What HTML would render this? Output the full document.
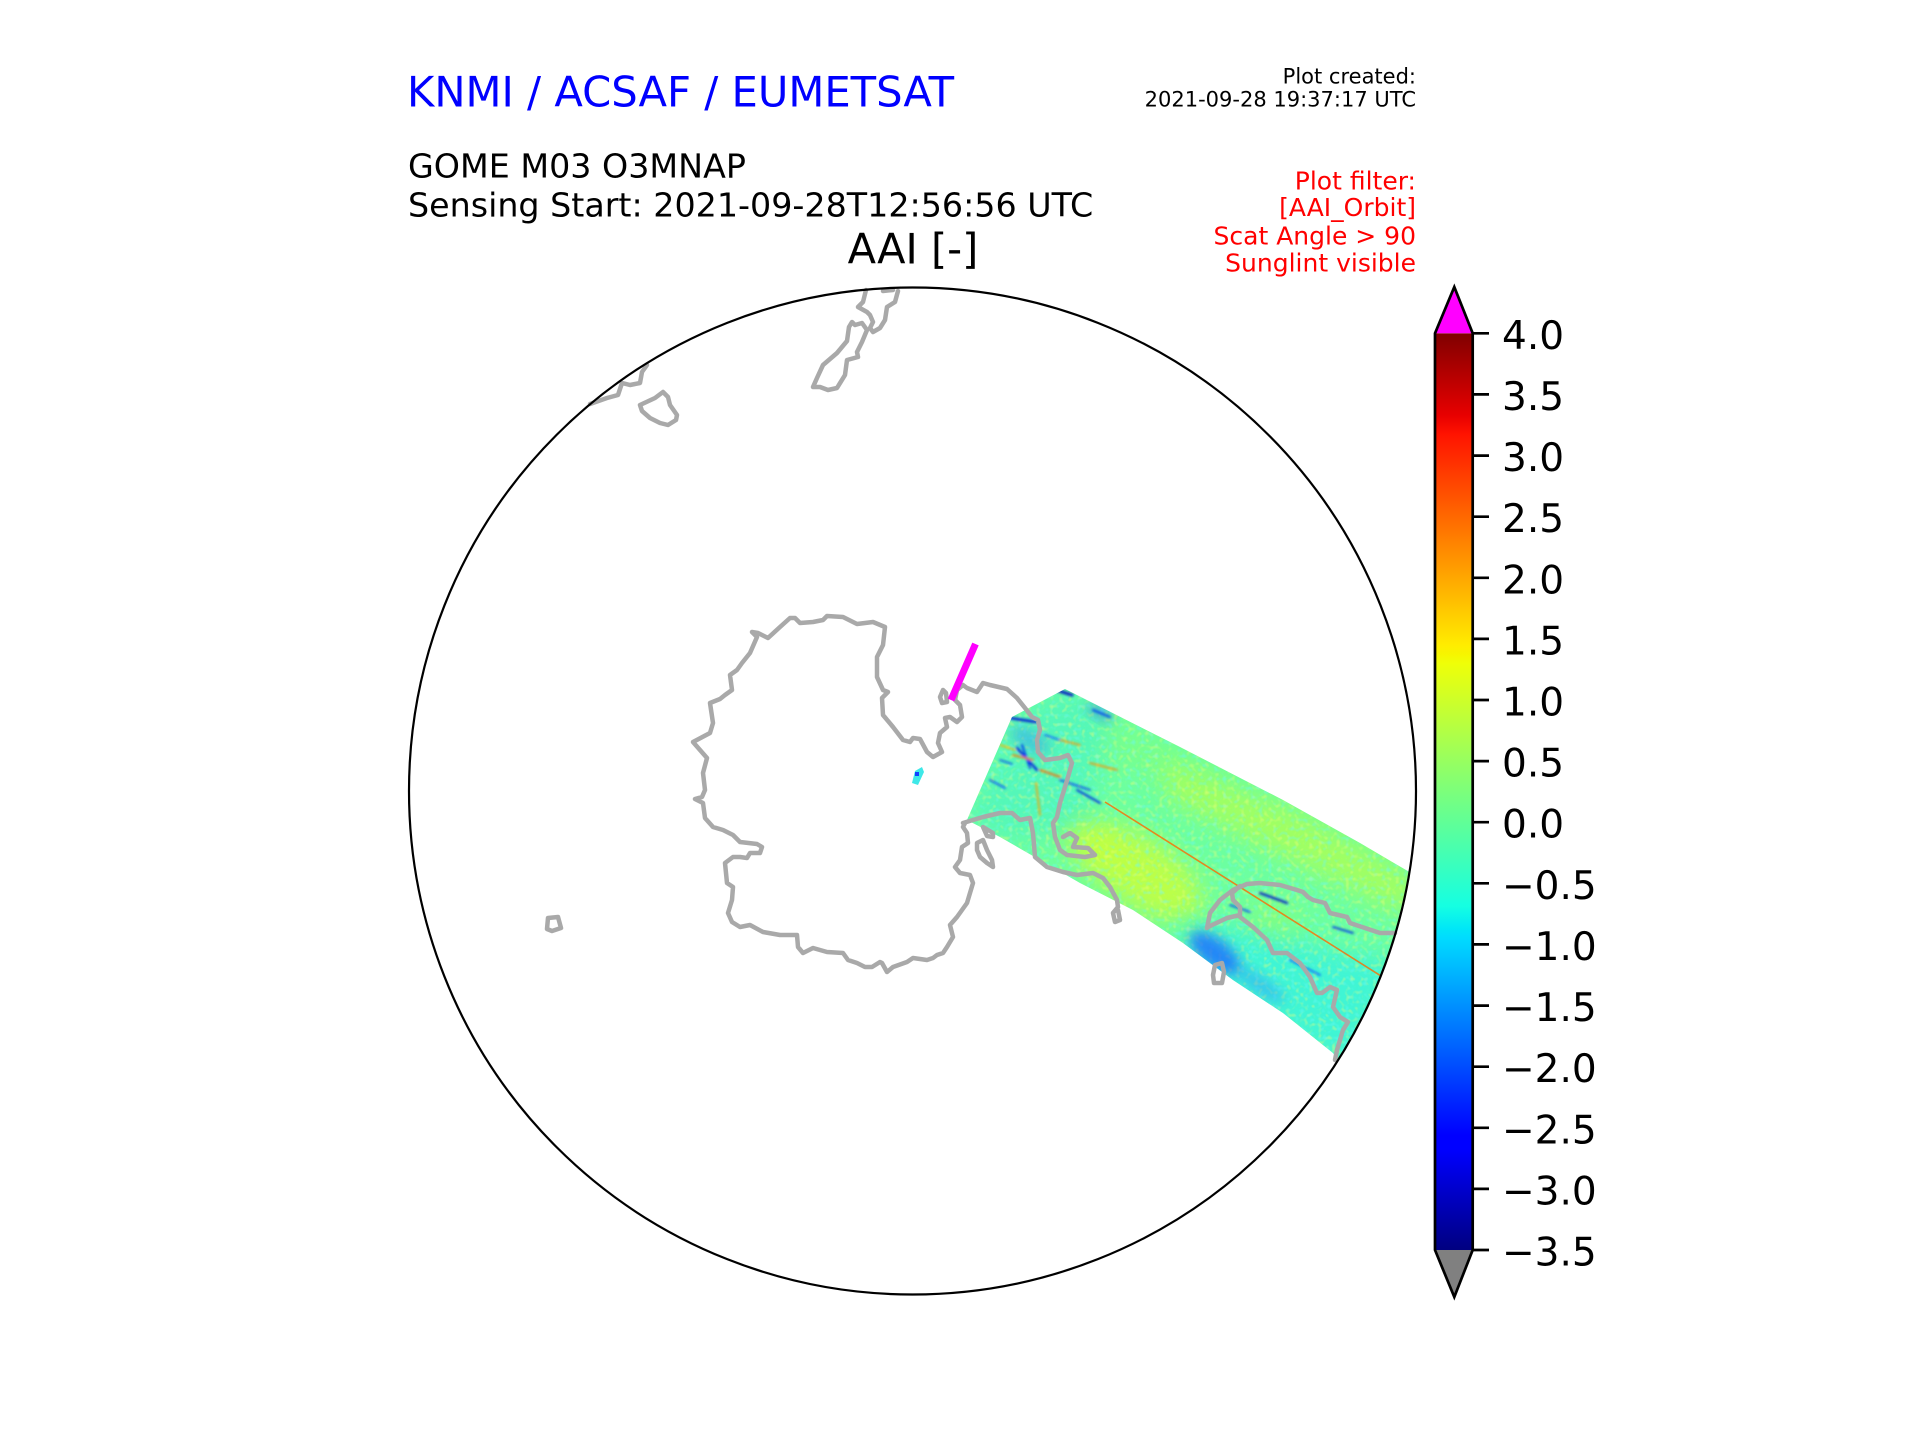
<!DOCTYPE html>
<html>
<head>
<meta charset="utf-8">
<style>
html,body{margin:0;padding:0;background:#fff;}
svg{display:block;}
text{font-family:"DejaVu Sans","Liberation Sans",sans-serif;}
</style>
</head>
<body>
<svg width="1920" height="1440" viewBox="0 0 1920 1440" xmlns="http://www.w3.org/2000/svg">
<defs>
  <linearGradient id="jet" x1="0" y1="1" x2="0" y2="0">
    <stop offset="0" stop-color="rgb(0,0,128)"/>
    <stop offset="0.11" stop-color="rgb(0,0,255)"/>
    <stop offset="0.125" stop-color="rgb(0,0,255)"/>
    <stop offset="0.34" stop-color="rgb(0,219,255)"/>
    <stop offset="0.35" stop-color="rgb(0,230,247)"/>
    <stop offset="0.375" stop-color="rgb(21,255,226)"/>
    <stop offset="0.64" stop-color="rgb(239,255,8)"/>
    <stop offset="0.65" stop-color="rgb(247,245,0)"/>
    <stop offset="0.66" stop-color="rgb(255,236,0)"/>
    <stop offset="0.89" stop-color="rgb(255,19,0)"/>
    <stop offset="0.91" stop-color="rgb(232,0,0)"/>
    <stop offset="1" stop-color="rgb(128,0,0)"/>
  </linearGradient>
  <clipPath id="circ"><circle cx="912.5" cy="791" r="503.5"/></clipPath>
  <clipPath id="sw"><polygon points="1065,689 1180,747 1283,800 1360,843 1440,890 1440,1100 1340,1062 1333,1053 1283,1013 1233,980 1183,943 1133,910 1080,883 1000,837 967,820 1012,717"/></clipPath>
  <filter id="b6" x="-50%" y="-50%" width="200%" height="200%"><feGaussianBlur stdDeviation="6"/></filter>
  <filter id="b12" x="-50%" y="-50%" width="200%" height="200%"><feGaussianBlur stdDeviation="12"/></filter>
  <filter id="b2" x="-50%" y="-50%" width="200%" height="200%"><feGaussianBlur stdDeviation="1.2"/></filter>
  <filter id="noiseY" x="0" y="0" width="100%" height="100%">
    <feTurbulence type="fractalNoise" baseFrequency="0.22" numOctaves="1" seed="3" result="n"/>
    <feColorMatrix in="n" type="matrix" values="0 0 0 0 0.85  0 0 0 0 1  0 0 0 0 0.2  3 0 0 0 -1.55"/>
  </filter>
  <filter id="noiseC" x="0" y="0" width="100%" height="100%">
    <feTurbulence type="fractalNoise" baseFrequency="0.22" numOctaves="1" seed="11" result="n"/>
    <feColorMatrix in="n" type="matrix" values="0 0 0 0 0.15  0 0 0 0 0.95  0 0 0 0 0.95  3 0 0 0 -1.55"/>
  </filter>
</defs>

<!-- Header texts -->
<text x="407" y="106.5" font-size="41.7" fill="#0000ff">KNMI / ACSAF / EUMETSAT</text>
<text x="1416" y="83.3" font-size="21" fill="#000" text-anchor="end">Plot created:</text>
<text x="1416" y="106.7" font-size="21" fill="#000" text-anchor="end">2021-09-28 19:37:17 UTC</text>
<text x="408" y="177.3" font-size="33.3" fill="#000">GOME M03 O3MNAP</text>
<text x="408" y="216.5" font-size="33.3" fill="#000">Sensing Start: 2021-09-28T12:56:56 UTC</text>
<text x="913" y="263.3" font-size="41.5" fill="#000" text-anchor="middle">AAI [-]</text>
<g font-size="25" fill="#ff0000" text-anchor="end">
  <text x="1416" y="189.3">Plot filter:</text>
  <text x="1416" y="216">[AAI_Orbit]</text>
  <text x="1416" y="244.3">Scat Angle &gt; 90</text>
  <text x="1416" y="271.7">Sunglint visible</text>
</g>

<!-- Swath data -->
<g clip-path="url(#circ)">
 <g clip-path="url(#sw)">
  <rect x="950" y="680" width="500" height="420" fill="#6cffa0"/>
  <!-- left region cyan-ish -->
  <polygon points="967,820 1012,717 1065,689 1110,712 1085,830 1000,837" fill="#3ef0d0" opacity="0.5" filter="url(#b12)"/>
  <!-- upper mid green -->
  <polygon points="1110,715 1230,775 1220,800 1110,760" fill="#80ff80" opacity="0.6" filter="url(#b12)"/>
  <!-- middle yellow -->
  <ellipse cx="1140" cy="872" rx="72" ry="34" transform="rotate(33 1140 872)" fill="#d0ff30" opacity="0.8" filter="url(#b12)"/>
  <ellipse cx="1090" cy="845" rx="30" ry="18" transform="rotate(33 1090 845)" fill="#c8ff38" opacity="0.6" filter="url(#b12)"/>
  <!-- right upper yellow-green -->
  <polygon points="1160,760 1300,812 1420,880 1405,915 1300,865 1170,800" fill="#b4ff4c" opacity="0.75" filter="url(#b12)"/>
  <!-- bottom-right cyan -->
  <polygon points="1180,925 1260,930 1330,950 1400,960 1350,1075 1250,1010 1190,975" fill="#30f2e6" opacity="0.75" filter="url(#b12)"/>
  <polygon points="1250,900 1300,905 1290,940 1250,930" fill="#9cff60" opacity="0.5" filter="url(#b12)"/>
  <!-- noise texture -->
  <rect x="950" y="680" width="500" height="420" filter="url(#noiseY)" opacity="0.55"/>
  <rect x="950" y="680" width="500" height="420" filter="url(#noiseC)" opacity="0.55"/>
  <!-- blue patches -->
  <ellipse cx="1215" cy="953" rx="30" ry="14" transform="rotate(38 1215 953)" fill="#1a6cff" opacity="0.8" filter="url(#b6)"/>
  <ellipse cx="1260" cy="985" rx="30" ry="8" transform="rotate(35 1260 985)" fill="#2aa0ff" opacity="0.55" filter="url(#b6)"/>
  <ellipse cx="1030" cy="740" rx="22" ry="10" transform="rotate(30 1030 740)" fill="#2a90ff" opacity="0.45" filter="url(#b6)"/>
  <ellipse cx="1100" cy="712" rx="14" ry="6" transform="rotate(30 1100 712)" fill="#2060ff" opacity="0.5" filter="url(#b6)"/>
  <!-- streaks -->
  <g filter="url(#b2)" stroke-linecap="round" fill="none">
   <line x1="1010" y1="718" x2="1036" y2="722" stroke="#0018d8" stroke-width="2.5"/>
   <line x1="1056" y1="690" x2="1072" y2="695" stroke="#0010c8" stroke-width="3"/>
   <line x1="1017" y1="748" x2="1037" y2="770" stroke="#0030e0" stroke-width="2.5"/>
   <line x1="1022" y1="745" x2="1030" y2="768" stroke="#0040f0" stroke-width="2"/>
   <line x1="1077" y1="790" x2="1100" y2="803" stroke="#0030e0" stroke-width="2"/>
   <line x1="1093" y1="710" x2="1110" y2="717" stroke="#0040f0" stroke-width="2"/>
   <line x1="1060" y1="780" x2="1090" y2="790" stroke="#1050f0" stroke-width="1.8"/>
   <line x1="990" y1="780" x2="1005" y2="788" stroke="#1050f0" stroke-width="1.8"/>
   <line x1="1000" y1="760" x2="1012" y2="764" stroke="#1050f0" stroke-width="1.6"/>
   <line x1="1045" y1="735" x2="1060" y2="740" stroke="#1060ff" stroke-width="1.6"/>
   <line x1="1013" y1="755" x2="1033" y2="760" stroke="#ff7800" stroke-width="1.8"/>
   <line x1="1040" y1="770" x2="1060" y2="777" stroke="#ff6a00" stroke-width="1.8"/>
   <line x1="1090" y1="763" x2="1117" y2="770" stroke="#ff8a00" stroke-width="1.6"/>
   <line x1="1036" y1="783" x2="1040" y2="815" stroke="#ffa000" stroke-width="1.6"/>
   <line x1="1060" y1="740" x2="1080" y2="745" stroke="#ff9000" stroke-width="1.6"/>
   <line x1="1000" y1="745" x2="1015" y2="750" stroke="#ffb000" stroke-width="1.5"/>
   <line x1="1260" y1="893" x2="1287" y2="903" stroke="#0018c8" stroke-width="2.2"/>
   <line x1="1333" y1="927" x2="1353" y2="933" stroke="#0030e0" stroke-width="1.8"/>
   <line x1="1290" y1="960" x2="1320" y2="975" stroke="#1060ff" stroke-width="1.8"/>
   <line x1="1230" y1="905" x2="1250" y2="912" stroke="#1050f0" stroke-width="1.8"/>
  </g>
  <line x1="1105" y1="802" x2="1400" y2="988" stroke="#ff6a00" stroke-width="1.6" opacity="0.8"/>
 </g>
</g>

<!-- small data patch -->
<polygon points="912,783 915,771 922,767 924,772 918,785" fill="#3ee8e8"/>
<rect x="915" y="772" width="4" height="4" fill="#1040ff"/>

<!-- Coastlines -->
<g fill="none" stroke="#a9a9a9" stroke-width="4.5" stroke-linejoin="round" stroke-linecap="round">
  <path d="M965,823 L963,827 967,833 968,843 962,847 960,860 955,867 960,873 970,875 973,883 970,893 967,903 957,917 950,925 952,933 953,937 947,947 943,953 937,955 933,958 927,960 913,958 907,962 893,967 887,972 882,963 880,962 872,967 865,967 857,963 848,960 843,953 827,952 813,948 803,953 798,947 797,935 792,935 780,935 763,932 750,925 740,927 732,922 728,913 732,900 733,887 727,883 725,863 733,857 740,857 747,858 750,853 760,853 762,847 757,844 740,842 733,835 723,830 713,827 705,818 703,803 695,799 702,797 705,790 703,773 707,758 693,742 710,733 713,723 710,703 720,699 725,695 732,690 730,675 737,670 742,663 750,653 757,637 752,632 758,633 768,638 780,627 790,618 795,618 800,623 813,622 823,620 827,616 843,617 857,624 873,622 885,627 883,645 877,657 877,677 883,690 888,692 882,698 883,715 893,727 903,740 910,742 913,738 920,739 927,752 933,757 942,752 938,743 940,733 947,727 945,718 950,717 957,722 962,717 960,705 955,700 957,690 963,685 967,688 977,692 983,683 990,685 1007,689 1017,698 1025,708 1032,717 1038,720 1040,730 1037,740 1038,752 1045,760 1060,758 1068,755 1072,763 1068,777 1065,787 1060,803 1057,817 1053,823 1055,837 1060,850 1067,855 1085,857 1095,855 1088,848 1073,847 1077,838 1070,833 1063,837"/>
  <path d="M943,690 L940,697 942,703 947,702 946,693 Z"/>
  <path d="M963,823 L983,817 1000,813 1012,813 1020,820 1030,818 1033,833 1035,857 1047,867 1063,872 1077,875 1093,873 1103,878 1110,887 1117,900 1118,907 1113,913 1115,922 1120,920 1118,910"/>
  <path d="M983,827 L993,833 993,837 987,836 Z"/>
  <path d="M977,843 L983,840 987,850 992,860 993,867 987,863 980,857 977,850 Z"/>
  <path d="M1207,928 L1210,913 1220,900 1233,890 1247,884 1260,883 1280,885 1297,890 1303,892 1308,897 1313,900 1325,903 1330,913 1347,917 1350,923 1365,928 1380,933 1395,933"/>
  <path d="M1208,927 L1227,918 1240,915 1240,907 1233,900 1232,893 1240,886"/>
  <path d="M1240,917 L1253,927 1267,940 1273,953 1287,953 1300,963 1310,977 1317,993 1322,993 1330,987 1337,990 1333,1007 1340,1017 1348,1022 1343,1030 1337,1050 1335,1060"/>
  <path d="M1215,965 L1222,963 1224,972 1222,983 1214,983 1213,975 Z"/>
  <path d="M590,404 L607,398 618,395 622,383 630,385 640,383 642,372 647,365"/>
  <path d="M640,405 L655,398 663,392 668,397 670,405 677,415 676,420 668,425 660,423 650,418 642,411 Z"/>
  <path d="M813,387 L817,378 823,365 837,353 847,341 849,327 852,322 855,325 862,323 867,330 862,342 857,352 858,357 847,360 845,375 837,388 828,390 820,387 Z"/>
  <path d="M866,290 L863,302 858,307 867,312 870,315 873,322 870,328 873,332 880,328 885,320 887,307 895,302 898,291"/>
  <path d="M883,291 L893,290"/>
  <path d="M548,918 L558,917 561,928 552,931 547,929 Z"/>
</g>

<!-- magenta bar -->
<line x1="975.5" y1="644" x2="951" y2="700" stroke="#ff00ff" stroke-width="7"/>

<!-- map boundary -->
<circle cx="912.5" cy="791" r="503.5" fill="none" stroke="#000" stroke-width="2.2"/>

<!-- Colorbar -->
<rect x="1435" y="333.3" width="37.7" height="916.7" fill="url(#jet)"/>
<polygon points="1435,333.3 1454.3,287 1472.7,333.3" fill="#ff00ff"/>
<polygon points="1435,1250 1454.3,1297 1472.7,1250" fill="#808080"/>
<polygon points="1435,1250 1435,333.3 1454.3,287 1472.7,333.3 1472.7,1250 1454.3,1297" fill="none" stroke="#000" stroke-width="2.7" stroke-linejoin="miter"/>
<g stroke="#000" stroke-width="2.7">
  <line x1="1472.7" y1="333.3" x2="1489" y2="333.3"/>
  <line x1="1472.7" y1="394.4" x2="1489" y2="394.4"/>
  <line x1="1472.7" y1="455.6" x2="1489" y2="455.6"/>
  <line x1="1472.7" y1="516.7" x2="1489" y2="516.7"/>
  <line x1="1472.7" y1="577.8" x2="1489" y2="577.8"/>
  <line x1="1472.7" y1="638.9" x2="1489" y2="638.9"/>
  <line x1="1472.7" y1="700.0" x2="1489" y2="700.0"/>
  <line x1="1472.7" y1="761.1" x2="1489" y2="761.1"/>
  <line x1="1472.7" y1="822.2" x2="1489" y2="822.2"/>
  <line x1="1472.7" y1="883.3" x2="1489" y2="883.3"/>
  <line x1="1472.7" y1="944.4" x2="1489" y2="944.4"/>
  <line x1="1472.7" y1="1005.6" x2="1489" y2="1005.6"/>
  <line x1="1472.7" y1="1066.7" x2="1489" y2="1066.7"/>
  <line x1="1472.7" y1="1127.8" x2="1489" y2="1127.8"/>
  <line x1="1472.7" y1="1188.9" x2="1489" y2="1188.9"/>
  <line x1="1472.7" y1="1250.0" x2="1489" y2="1250.0"/>
</g>
<g font-size="39" fill="#000">
  <text x="1502" y="348.8">4.0</text>
  <text x="1502" y="409.9">3.5</text>
  <text x="1502" y="471.1">3.0</text>
  <text x="1502" y="532.2">2.5</text>
  <text x="1502" y="593.3">2.0</text>
  <text x="1502" y="654.4">1.5</text>
  <text x="1502" y="715.5">1.0</text>
  <text x="1502" y="776.6">0.5</text>
  <text x="1502" y="837.7">0.0</text>
  <text x="1502" y="898.8">−0.5</text>
  <text x="1502" y="959.9">−1.0</text>
  <text x="1502" y="1021.1">−1.5</text>
  <text x="1502" y="1082.2">−2.0</text>
  <text x="1502" y="1143.3">−2.5</text>
  <text x="1502" y="1204.4">−3.0</text>
  <text x="1502" y="1265.5">−3.5</text>
</g>
</svg>
</body>
</html>
